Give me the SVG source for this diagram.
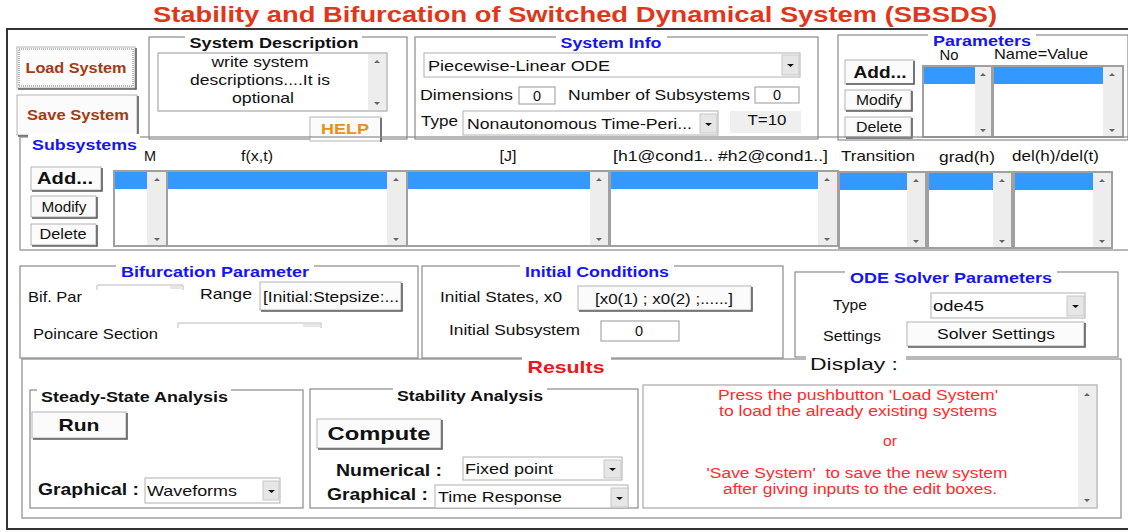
<svg xmlns="http://www.w3.org/2000/svg" width="1128" height="532" viewBox="0 0 1128 532">
<style>
text{font-family:"Liberation Sans",Arial,sans-serif;fill:#111}
.t{font-size:14.5px}
.b{font-weight:bold}
.blue{fill:#1414f5;font-weight:bold;font-size:14.5px}
.ptl{font-weight:bold;font-size:14.5px;fill:#111}
.c{text-anchor:middle}
.panel{fill:none;stroke:#8a8a8a;stroke-width:1.2}
.gap{fill:#fff}
.btn{fill:#fbfbfb;stroke:#b4b4b4;stroke-width:1}
.sh{fill:none;stroke:#5a5a5a;stroke-width:1.6}
.edit{fill:#fff;stroke:#a8a8a8;stroke-width:1.2}
.list{fill:#fff;stroke:#a0a0a0;stroke-width:2}
.sel{fill:#3399ff}
.sb{fill:#ededed}
.arr{fill:#666}
.dd{fill:#fff;stroke:#b0b0b0;stroke-width:1}
.ddb{fill:#e6e6e6;stroke:#c8c8c8;stroke-width:1}
.red{fill:#ff2b2b;font-size:14px}
</style>
<rect x="0" y="0" width="1128" height="532" fill="#fff"/>
<g id="title">
<text x="575" y="22" class="c b" style="font-size:22px;fill:#e2361b" textLength="844" lengthAdjust="spacingAndGlyphs">Stability and Bifurcation of Switched Dynamical System (SBSDS)</text>
</g>
<rect id="frame" x="7" y="29" width="1130" height="500" fill="none" stroke="#333" stroke-width="2"/>

<g id="load-system">
<rect class="btn" x="17" y="47" width="118" height="41"/>
<path class="sh" d="M136 48V89H18"/>
<rect x="19" y="49" width="114" height="37" fill="none" stroke="#777" stroke-dasharray="1,1"/>
<text x="76" y="73" class="c b" style="font-size:14px;fill:#a33a12" textLength="101" lengthAdjust="spacingAndGlyphs">Load System</text>
</g>
<g id="save-system">
<rect class="btn" x="17" y="95" width="120" height="40"/>
<path class="sh" d="M138 96V136H18"/>
<text x="78" y="120" class="c b" style="font-size:14px;fill:#a33a12" textLength="102" lengthAdjust="spacingAndGlyphs">Save System</text>
</g>

<g id="system-description">
<rect class="panel" x="149" y="37" width="258" height="102"/>
<rect class="gap" x="185" y="33" width="177" height="10"/>
<text x="274" y="48" class="c ptl" textLength="169" lengthAdjust="spacingAndGlyphs">System Description</text>
<rect class="edit" x="158" y="53" width="229" height="58"/>
<rect class="sb" x="368" y="54" width="18" height="56"/>
<path class="arr" d="M374 63h6l-3-3z M374 102h6l-3 3z"/>
<text x="260" y="67" class="c t" textLength="97" lengthAdjust="spacingAndGlyphs">write system</text>
<text x="260" y="85" class="c t" textLength="140" lengthAdjust="spacingAndGlyphs">descriptions....It is</text>
<text x="263" y="103" class="c t" textLength="62" lengthAdjust="spacingAndGlyphs">optional</text>
</g>
<g id="help">
<rect class="btn" x="310" y="117" width="71" height="24"/>
<path class="sh" d="M381 118V142"/>
<text x="345" y="134" class="c b" style="font-size:15px;fill:#e8901a" textLength="48" lengthAdjust="spacingAndGlyphs">HELP</text>
</g>

<g id="system-info">
<rect class="panel" x="415" y="37" width="403" height="102"/>
<rect class="gap" x="556" y="33" width="111" height="10"/>
<text x="611" y="48" class="c blue" textLength="101" lengthAdjust="spacingAndGlyphs">System Info</text>
<rect class="dd" x="424" y="53" width="376" height="24"/>
<rect class="ddb" x="782" y="55" width="17" height="20"/>
<path d="M787 64h7l-3.5 3z" fill="#111"/>
<text x="428" y="71" class="t" textLength="182" lengthAdjust="spacingAndGlyphs">Piecewise-Linear ODE</text>
<text x="420" y="100" class="t" textLength="93" lengthAdjust="spacingAndGlyphs">Dimensions</text>
<rect class="edit" x="519" y="87" width="36" height="17"/>
<text x="537" y="101" class="c t">0</text>
<text x="568" y="100" class="t" textLength="182" lengthAdjust="spacingAndGlyphs">Number of Subsystems</text>
<rect class="edit" x="755" y="87" width="44" height="16"/>
<text x="777" y="100" class="c t">0</text>
<text x="421" y="126" class="t" textLength="37" lengthAdjust="spacingAndGlyphs">Type</text>
<rect class="dd" x="463" y="111" width="255" height="24"/>
<rect class="ddb" x="700" y="114" width="17" height="19"/>
<path d="M705 123h7l-3.5 3z" fill="#111"/>
<text x="467" y="129" class="t" textLength="225" lengthAdjust="spacingAndGlyphs">Nonautonomous Time-Peri...</text>
<rect x="730" y="111" width="71" height="22" fill="#efefef"/>
<text x="767" y="125" class="c t" textLength="39" lengthAdjust="spacingAndGlyphs">T=10</text>
</g>

<g id="parameters">
<rect class="panel" x="838" y="35" width="290" height="105"/>
<rect class="gap" x="928" y="31" width="108" height="10"/>
<text x="982" y="46" class="c blue" textLength="98" lengthAdjust="spacingAndGlyphs">Parameters</text>
<text x="949" y="60" class="c t" textLength="19" lengthAdjust="spacingAndGlyphs">No</text>
<text x="1041" y="59" class="c t" textLength="94" lengthAdjust="spacingAndGlyphs">Name=Value</text>
<rect class="btn" x="845" y="60" width="69" height="24"/>
<path class="sh" d="M914 61V84H846"/>
<text x="880" y="78" class="c b" style="font-size:17px" textLength="53" lengthAdjust="spacingAndGlyphs">Add...</text>
<rect class="btn" x="845" y="90" width="66" height="20"/>
<path class="sh" d="M912 91V111H846"/>
<text x="879" y="105" class="c t" textLength="46" lengthAdjust="spacingAndGlyphs">Modify</text>
<rect class="btn" x="845" y="117" width="66" height="20"/>
<path class="sh" d="M912 118V138H846"/>
<text x="879" y="132" class="c t" textLength="46" lengthAdjust="spacingAndGlyphs">Delete</text>
<rect class="list" x="923" y="66" width="69" height="71"/>
<rect class="sel" x="924" y="67" width="51" height="17"/>
<rect class="sb" x="975" y="67" width="16" height="69"/>
<path class="arr" d="M980 76h6l-3-3z M980 129h6l-3 3z"/>
<rect class="list" x="993" y="66" width="130" height="71"/>
<rect class="sel" x="994" y="67" width="109" height="17"/>
<rect class="sb" x="1103" y="67" width="19" height="69"/>
<path class="arr" d="M1109 76h6l-3-3z M1109 129h6l-3 3z"/>
</g>

<g id="subsystems">
<rect class="panel" x="20" y="137" width="1115" height="113"/>
<rect class="gap" x="28" y="134" width="112" height="8"/>
<text x="32" y="150" class="blue" style="font-size:15px" textLength="105" lengthAdjust="spacingAndGlyphs">Subsystems</text>
<text x="150" y="161" class="c t">M</text>
<text x="257" y="161" class="c t" textLength="32" lengthAdjust="spacingAndGlyphs">f(x,t)</text>
<text x="508" y="161" class="c t" textLength="17" lengthAdjust="spacingAndGlyphs">[J]</text>
<text x="613" y="161" class="t" textLength="215" lengthAdjust="spacingAndGlyphs">[h1@cond1.. #h2@cond1..]</text>
<text x="841" y="161" class="t" textLength="74" lengthAdjust="spacingAndGlyphs">Transition</text>
<text x="939" y="162" class="t" textLength="56" lengthAdjust="spacingAndGlyphs">grad(h)</text>
<text x="1012" y="161" class="t" textLength="87" lengthAdjust="spacingAndGlyphs">del(h)/del(t)</text>
<rect class="btn" x="31" y="167" width="70" height="23"/>
<path class="sh" d="M102 168V191H32"/>
<text x="65" y="184" class="c b" style="font-size:17px" textLength="56" lengthAdjust="spacingAndGlyphs">Add...</text>
<rect class="btn" x="31" y="196" width="65" height="21"/>
<path class="sh" d="M97 197V218H32"/>
<text x="64" y="212" class="c t" textLength="45" lengthAdjust="spacingAndGlyphs">Modify</text>
<rect class="btn" x="31" y="224" width="65" height="21"/>
<path class="sh" d="M97 225V246H32"/>
<text x="63" y="239" class="c t" textLength="47" lengthAdjust="spacingAndGlyphs">Delete</text>
<rect class="list" x="114" y="171" width="53" height="75"/>
<rect class="sel" x="115" y="172" width="32" height="17"/>
<rect class="sb" x="147" y="172" width="19" height="73"/>
<path class="arr" d="M154 181h6l-3-3z M154 238h6l-3 3z"/>
<rect class="list" x="167" y="171" width="240" height="75"/>
<rect class="sel" x="168" y="172" width="219" height="17"/>
<rect class="sb" x="387" y="172" width="19" height="73"/>
<path class="arr" d="M393 181h6l-3-3z M393 238h6l-3 3z"/>
<rect class="list" x="407" y="171" width="202" height="75"/>
<rect class="sel" x="408" y="172" width="182" height="17"/>
<rect class="sb" x="590" y="172" width="18" height="73"/>
<path class="arr" d="M596 181h6l-3-3z M596 238h6l-3 3z"/>
<rect class="list" x="610" y="171" width="228" height="75"/>
<rect class="sel" x="611" y="172" width="207" height="17"/>
<rect class="sb" x="818" y="172" width="19" height="73"/>
<path class="arr" d="M824 181h6l-3-3z M824 238h6l-3 3z"/>
<rect class="list" x="839" y="172" width="87" height="76"/>
<rect class="sel" x="840" y="173" width="67" height="17"/>
<rect class="sb" x="907" y="173" width="18" height="74"/>
<path class="arr" d="M913 182h6l-3-3z M913 240h6l-3 3z"/>
<rect class="list" x="928" y="172" width="84" height="76"/>
<rect class="sel" x="929" y="173" width="64" height="17"/>
<rect class="sb" x="993" y="173" width="18" height="74"/>
<path class="arr" d="M999 182h6l-3-3z M999 240h6l-3 3z"/>
<rect class="list" x="1014" y="172" width="98" height="76"/>
<rect class="sel" x="1015" y="173" width="78" height="17"/>
<rect class="sb" x="1093" y="173" width="18" height="74"/>
<path class="arr" d="M1099 182h6l-3-3z M1099 240h6l-3 3z"/>
</g>

<g id="bifurcation-parameter">
<rect class="panel" x="20" y="266" width="398" height="92"/>
<rect class="gap" x="116" y="262" width="198" height="9"/>
<text x="215" y="277" class="c blue" textLength="188" lengthAdjust="spacingAndGlyphs">Bifurcation Parameter</text>
<text x="28" y="302" class="t" textLength="54" lengthAdjust="spacingAndGlyphs">Bif. Par</text>
<path d="M97 290V285H183V290" fill="none" stroke="#bbb"/>
<rect x="170" y="286" width="12" height="3" fill="#e6e6e6"/>
<text x="200" y="299" class="t" textLength="52" lengthAdjust="spacingAndGlyphs">Range</text>
<rect class="btn" x="260" y="282" width="141" height="28"/>
<path class="sh" d="M402 283V311H261"/>
<text x="263" y="302" class="t" textLength="136" lengthAdjust="spacingAndGlyphs">[Initial:Stepsize:...</text>
<text x="33" y="339" class="t" textLength="125" lengthAdjust="spacingAndGlyphs">Poincare Section</text>
<path d="M178 328V323H321V328" fill="none" stroke="#bbb"/>
<rect x="303" y="324" width="17" height="3" fill="#e6e6e6"/>
</g>

<g id="initial-conditions">
<rect class="panel" x="422" y="266" width="361" height="92"/>
<rect class="gap" x="520" y="262" width="154" height="9"/>
<text x="597" y="277" class="c blue" textLength="144" lengthAdjust="spacingAndGlyphs">Initial Conditions</text>
<text x="440" y="302" class="t" textLength="122" lengthAdjust="spacingAndGlyphs">Initial States, x0</text>
<rect class="btn" x="578" y="286" width="173" height="24"/>
<path class="sh" d="M752 287V311H579"/>
<text x="664" y="304" class="c t" textLength="138" lengthAdjust="spacingAndGlyphs">[x0(1) ; x0(2) ;......]</text>
<text x="449" y="335" class="t" textLength="131" lengthAdjust="spacingAndGlyphs">Initial Subsystem</text>
<rect class="edit" x="601" y="321" width="78" height="20"/>
<text x="639" y="336" class="c t">0</text>
</g>

<g id="ode-solver-parameters">
<rect class="panel" x="795" y="272" width="323" height="85"/>
<rect class="gap" x="845" y="267" width="212" height="9"/>
<text x="951" y="283" class="c blue" textLength="202" lengthAdjust="spacingAndGlyphs">ODE Solver Parameters</text>
<text x="833" y="310" class="t" textLength="34" lengthAdjust="spacingAndGlyphs">Type</text>
<rect class="dd" x="931" y="293" width="154" height="25"/>
<rect class="ddb" x="1067" y="296" width="17" height="20"/>
<path d="M1072 305h7l-3.5 3z" fill="#111"/>
<text x="933" y="311" class="t" textLength="51" lengthAdjust="spacingAndGlyphs">ode45</text>
<text x="823" y="341" class="t" textLength="58" lengthAdjust="spacingAndGlyphs">Settings</text>
<rect class="btn" x="907" y="322" width="177" height="24"/>
<path class="sh" d="M1085 323V347H908"/>
<text x="996" y="339" class="c t" textLength="118" lengthAdjust="spacingAndGlyphs">Solver Settings</text>
</g>

<g id="results">
<rect class="panel" x="22" y="359" width="1099" height="159"/>
<rect class="gap" x="522" y="355" width="89" height="9"/>
<text x="566" y="373" class="c b" style="font-size:17px;fill:#f01414" textLength="77" lengthAdjust="spacingAndGlyphs">Results</text>
<rect class="gap" x="806" y="355" width="100" height="9"/>
<text x="854" y="370" class="c" style="font-size:17px" textLength="88" lengthAdjust="spacingAndGlyphs">Display :</text>
</g>

<g id="steady-state-analysis">
<rect class="panel" x="30" y="390" width="273" height="118"/>
<rect class="gap" x="37" y="386" width="194" height="9"/>
<text x="41" y="402" class="ptl" textLength="187" lengthAdjust="spacingAndGlyphs">Steady-State Analysis</text>
<rect class="btn" x="32" y="412" width="94" height="26"/>
<path class="sh" d="M127 413V439H33"/>
<text x="79" y="431" class="c b" style="font-size:17px" textLength="41" lengthAdjust="spacingAndGlyphs">Run</text>
<text x="38" y="495" class="b" style="font-size:16px" textLength="101" lengthAdjust="spacingAndGlyphs">Graphical :</text>
<rect class="dd" x="145" y="478" width="135" height="25"/>
<rect class="ddb" x="263" y="481" width="16" height="19"/>
<path d="M268 490h7l-3.5 3z" fill="#111"/>
<text x="147" y="496" class="t" textLength="90" lengthAdjust="spacingAndGlyphs">Waveforms</text>
</g>

<g id="stability-analysis">
<rect class="panel" x="310" y="389" width="328" height="119"/>
<rect class="gap" x="393" y="385" width="154" height="9"/>
<text x="470" y="401" class="c ptl" textLength="146" lengthAdjust="spacingAndGlyphs">Stability Analysis</text>
<rect class="btn" x="317" y="419" width="124" height="29"/>
<path class="sh" d="M442 420V449H318"/>
<text x="379" y="440" class="c b" style="font-size:18px" textLength="103" lengthAdjust="spacingAndGlyphs">Compute</text>
<text x="336" y="476" class="b" style="font-size:16px" textLength="106" lengthAdjust="spacingAndGlyphs">Numerical :</text>
<rect class="dd" x="463" y="457" width="159" height="23"/>
<rect class="ddb" x="604" y="460" width="17" height="18"/>
<path d="M609 468h7l-3.5 3z" fill="#111"/>
<text x="465" y="474" class="t" textLength="88" lengthAdjust="spacingAndGlyphs">Fixed point</text>
<text x="327" y="500" class="b" style="font-size:16px" textLength="101" lengthAdjust="spacingAndGlyphs">Graphical :</text>
<rect class="dd" x="435" y="485" width="193" height="23"/>
<rect class="ddb" x="611" y="488" width="17" height="19"/>
<path d="M616 497h7l-3.5 3z" fill="#111"/>
<text x="438" y="502" class="t" textLength="124" lengthAdjust="spacingAndGlyphs">Time Response</text>
</g>

<g id="display">
<rect class="edit" x="643" y="385" width="454" height="123"/>
<rect class="sb" x="1078" y="386" width="18" height="121"/>
<path class="arr" d="M1084 396h6l-3-3z M1084 499h6l-3 3z"/>
<text x="858" y="400" class="c red" textLength="280" lengthAdjust="spacingAndGlyphs">Press the pushbutton 'Load System'</text>
<text x="858" y="416" class="c red" textLength="278" lengthAdjust="spacingAndGlyphs">to load the already existing systems</text>
<text x="890" y="446" class="c red" textLength="14" lengthAdjust="spacingAndGlyphs">or</text>
<text x="857" y="478" class="c red" textLength="301" lengthAdjust="spacingAndGlyphs" xml:space="preserve">'Save System'  to save the new system</text>
<text x="860" y="494" class="c red" textLength="274" lengthAdjust="spacingAndGlyphs">after giving inputs to the edit boxes.</text>
</g>
</svg>
